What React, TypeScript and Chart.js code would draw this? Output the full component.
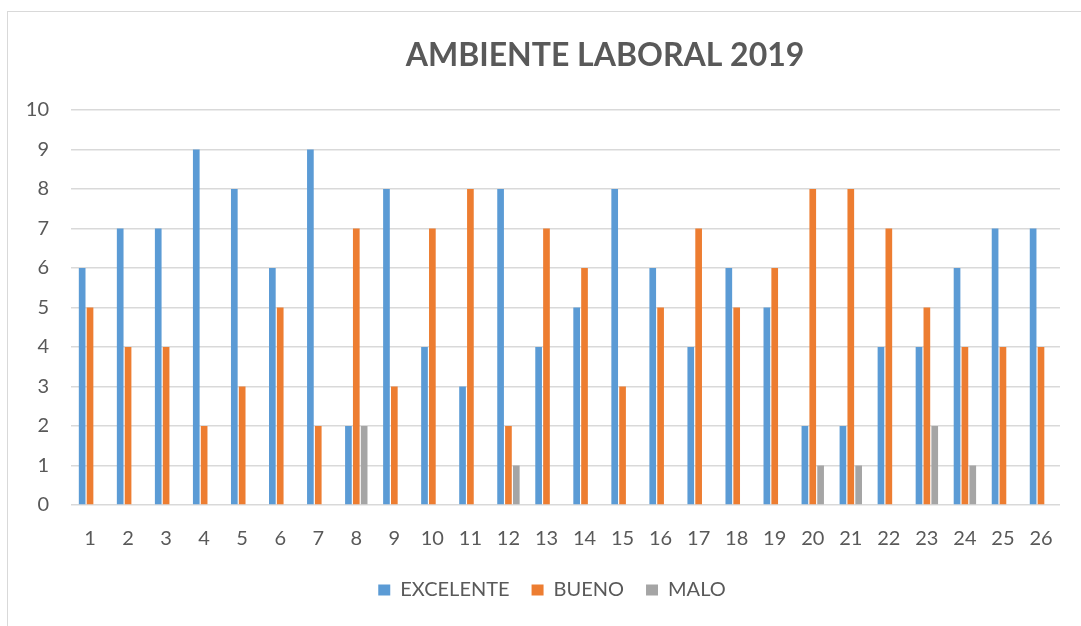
import React, { useEffect, useRef } from "react";
import { Chart, registerables } from "chart.js";

Chart.register(...registerables);

const TITLE = "AMBIENTE LABORAL 2019";
const categories = ["1","2","3","4","5","6","7","8","9","10","11","12","13","14","15","16","17","18","19","20","21","22","23","24","25","26"];
const excelente = [6,7,7,9,8,6,9,2,8,4,3,8,4,5,8,6,4,6,5,2,2,4,4,6,7,7];
const bueno = [5,4,4,2,3,5,2,7,3,7,8,2,7,6,3,5,7,5,6,8,8,7,5,4,4,4];
const malo = [0,0,0,0,0,0,0,2,0,0,0,1,0,0,0,0,0,0,0,1,1,0,2,1,0,0];
const yTicks = [0,1,2,3,4,5,6,7,8,9,10];

const TEXT = "#595959";
const GRID = "#d9d9d9";
const FONT = "Lato, 'Open Sans', sans-serif";

const titlePlugin = {
  id: "customTitle",
  afterDraw(chart: any) {
    const ctx = chart.ctx;
    ctx.save();
    ctx.font = `bold 32px ${FONT}`;
    ctx.fillStyle = TEXT;
    ctx.textAlign = "center";
    ctx.textBaseline = "middle";
    ctx.fillText(TITLE, 597, 44);
    ctx.restore();
  },
};

export default function App() {
  const ref = useRef<HTMLCanvasElement | null>(null);
  useEffect(() => {
    if (!ref.current) return;
    const chart = new Chart(ref.current, {
      type: "bar",
      data: {
        labels: categories,
        datasets: [
          { label: "EXCELENTE", data: excelente, backgroundColor: "#5B9BD5" },
          { label: "BUENO", data: bueno, backgroundColor: "#ED7D31" },
          { label: "MALO", data: malo, backgroundColor: "#A5A5A5" },
        ],
      },
      options: {
        animation: false,
        responsive: false,
        devicePixelRatio: 1,
        datasets: { bar: { categoryPercentage: 0.62, barPercentage: 0.85 } },
        layout: { padding: { top: 98, left: 0, right: 0, bottom: 16 } },
        plugins: {
          title: { display: false },
          tooltip: { enabled: false },
          legend: {
            position: "bottom",
            labels: {
              color: TEXT,
              font: { family: FONT, size: 20 },
              boxWidth: 12,
              boxHeight: 11,
              padding: 22,
            },
          },
        },
        scales: {
          x: {
            grid: { display: false, drawTicks: false },
            border: { display: false },
            ticks: { color: TEXT, font: { family: FONT, size: 20 }, padding: 22, maxRotation: 0, autoSkip: false },
            afterFit: (axis: any) => { axis.height = 53; },
          },
          y: {
            min: 0,
            max: 10,
            afterBuildTicks: (axis: any) => { axis.ticks = yTicks.map((v) => ({ value: v })); },
            grid: { color: GRID, lineWidth: 1.5, drawTicks: false },
            border: { display: false },
            ticks: { color: TEXT, font: { family: FONT, size: 20 }, padding: 22 },
            afterFit: (axis: any) => { axis.width = 63; },
          },
          yRightSpace: {
            type: "linear",
            position: "right",
            display: true,
            min: 0,
            max: 10,
            grid: { display: false, drawTicks: false },
            border: { display: false },
            ticks: { display: false },
            afterFit: (axis: any) => { axis.width = 36; },
          },
        },
      },
      plugins: [titlePlugin],
    });
    return () => chart.destroy();
  }, []);

  return (
    <div style={{ position: "fixed", left: 0, top: 0, width: 1081, height: 626, overflow: "hidden", background: "#fff" }}>
      <div style={{ position: "absolute", left: 7, top: 11, width: 1120, height: 660, border: "1px solid #d9d9d9" }}>
        <canvas ref={ref} width={1088} height={614} style={{ display: "block", width: 1088, height: 614 }} />
      </div>
    </div>
  );
}
